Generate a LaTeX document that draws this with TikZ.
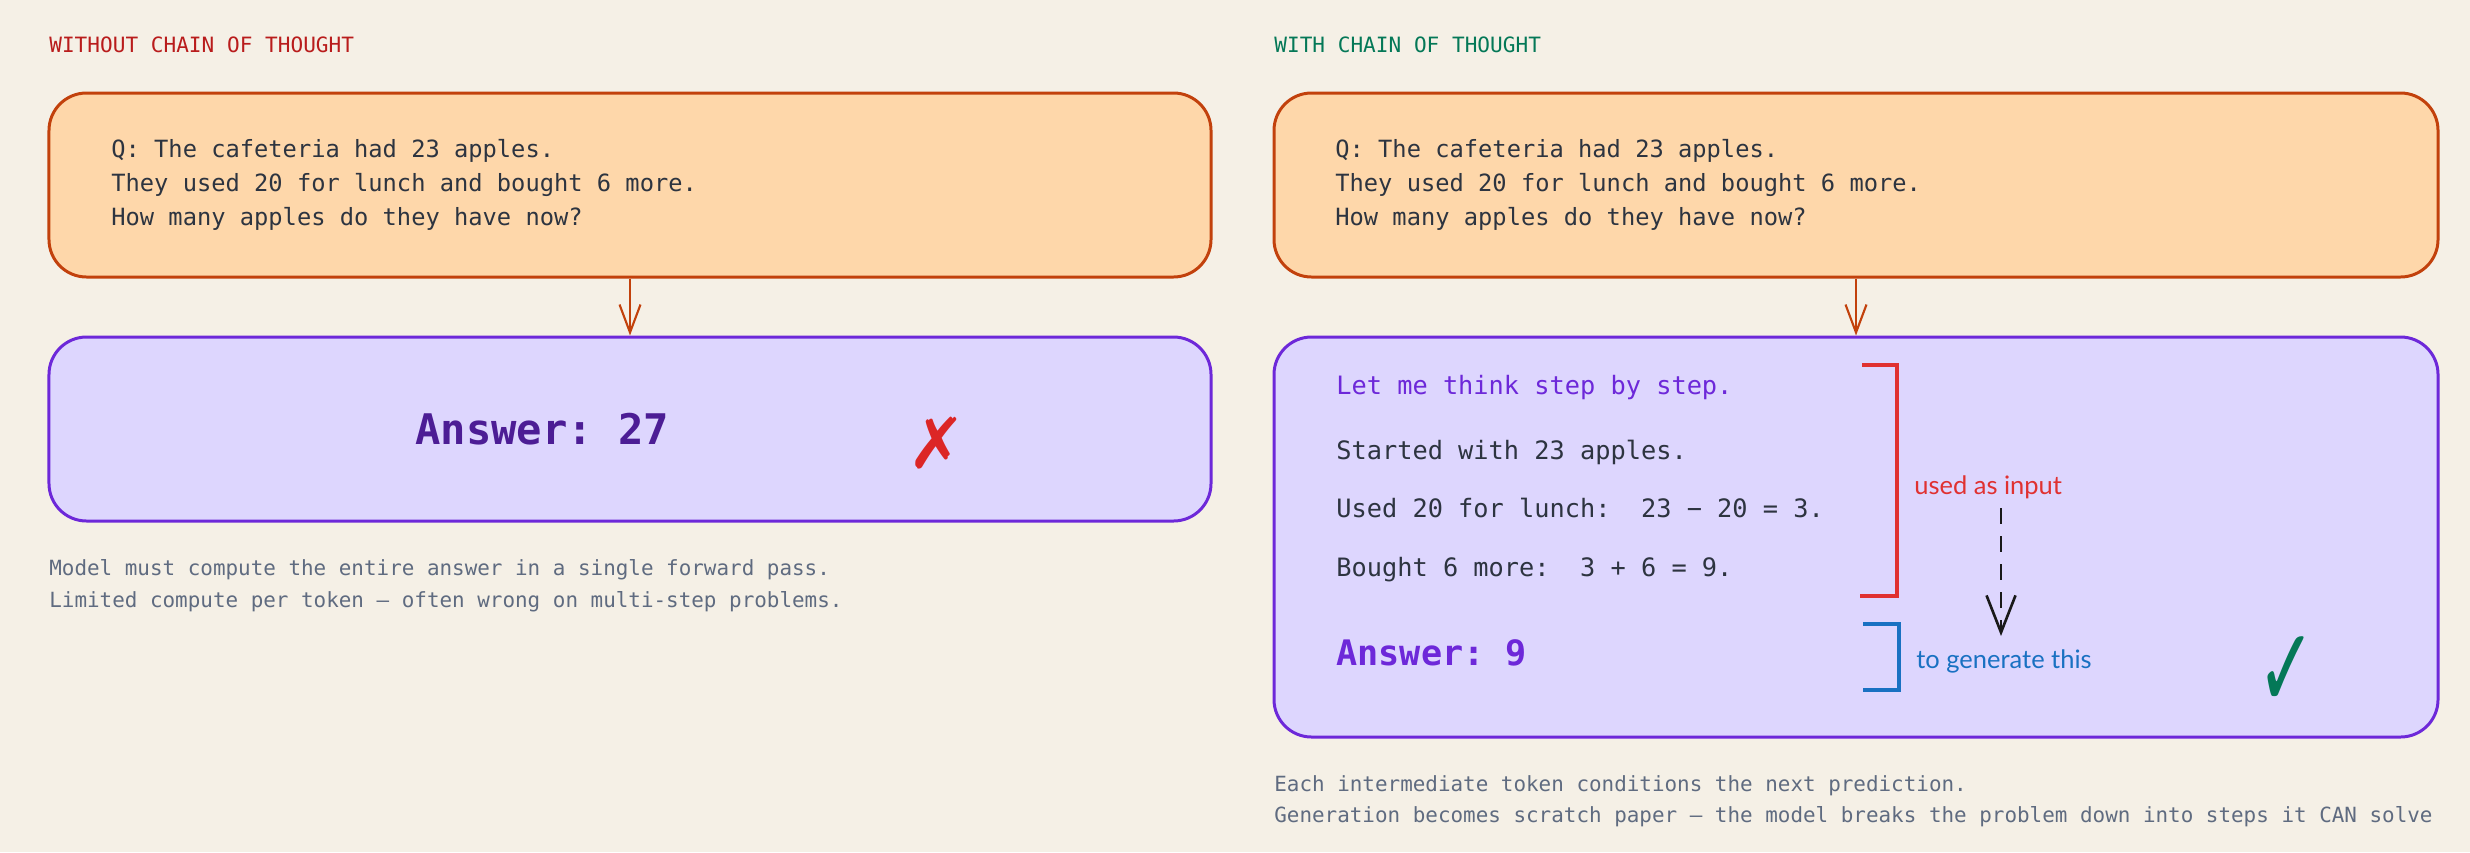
\documentclass[tikz,border=0pt]{standalone}
\usepackage{fontspec}
\setmonofont{DejaVu Sans Mono}
\setsansfont{Lato}
\newfontfamily\symbolfont{DejaVu Sans}
\usepackage{xcolor}
\usetikzlibrary{arrows.meta,positioning}

\definecolor{bgcream}{HTML}{F5F0E6}
\definecolor{qfill}{HTML}{FED7AA}
\definecolor{qline}{HTML}{C2410C}
\definecolor{afill}{HTML}{DDD6FE}
\definecolor{aline}{HTML}{6D28D9}
\definecolor{deepviolet}{HTML}{4C1D95}
\definecolor{inktext}{HTML}{2D3440}
\definecolor{notegray}{HTML}{5F6B80}
\definecolor{warnred}{HTML}{B91C1C}
\definecolor{okgreen}{HTML}{047857}
\definecolor{markred}{HTML}{DC2626}
\definecolor{bracketred}{HTML}{E03131}
\definecolor{markblue}{HTML}{1971C2}

\begin{document}
\begin{tikzpicture}[x=0.2mm, y=-0.2mm,
        qbox/.style={rectangle, draw=qline, fill=qfill, line width=1.7pt, rounded corners=7.5mm, minimum width=232.4mm, minimum height=36.8mm},
        abox/.style={rectangle, draw=aline, fill=afill, line width=1.7pt, rounded corners=7.5mm, minimum width=232.4mm},
        txt/.style={anchor=base west, inner sep=0pt, font=\ttfamily\fontsize{13.5}{16}\selectfont, text=inktext},
        steptxt/.style={txt, font=\ttfamily\fontsize{14.4}{17}\selectfont},
        head/.style={anchor=base west, inner sep=0pt, font=\ttfamily\fontsize{12}{14}\selectfont},
        note/.style={anchor=base west, inner sep=0pt, font=\ttfamily\fontsize{11.9}{14}\selectfont, text=notegray},
        tag/.style={anchor=base west, inner sep=0pt, font=\sffamily\fontsize{14.5}{17}\selectfont},
        arr/.style={-{Straight Barb[length=5.6mm, width=4.2mm]}, draw=qline, line width=1.2pt}
    ]
        \fill[bgcream] (0,0) rectangle (2470,852);
        \useasboundingbox (0,0) rectangle (2470,852);

        % Without chain of thought
        \node[head, text=warnred] (hL) at (49,52) {WITHOUT CHAIN OF THOUGHT};
        \node[qbox] (qL) at (630,185) {};
        \node[txt] (qL1) at (111,157) {Q: The cafeteria had 23 apples.};
        \node[txt] (qL2) at (111,191) {They used 20 for lunch and bought 6 more.};
        \node[txt] (qL3) at (111,225) {How many apples do they have now?};

        \node[abox, minimum height=36.8mm] (aL) at (630,429) {};
        \node[anchor=base west, inner sep=0pt, font=\ttfamily\bfseries\fontsize{24}{29}\selectfont, text=deepviolet] (ansL) at (415,444) {Answer: 27};
        \node[inner sep=0pt, font=\symbolfont\fontsize{40}{40}\selectfont, text=markred] (cross) at (937,443) {✗};

        \node[note] (nL1) at (49,575) {Model must compute the entire answer in a single forward pass.};
        \node[note] (nL2) at (49,607) {Limited compute per token — often wrong on multi-step problems.};

        % With chain of thought
        \node[head, text=okgreen] (hR) at (1274,52) {WITH CHAIN OF THOUGHT};
        \node[qbox, minimum width=232.8mm] (qR) at (1856,185) {};
        \node[txt] (qR1) at (1335,157) {Q: The cafeteria had 23 apples.};
        \node[txt] (qR2) at (1335,191) {They used 20 for lunch and bought 6 more.};
        \node[txt] (qR3) at (1335,225) {How many apples do they have now?};

        \node[abox, minimum width=232.8mm, minimum height=80mm] (aR) at (1856,537) {};
        \node[steptxt, text=aline] (s0) at (1336,394) {Let me think step by step.};
        \node[steptxt] (s1) at (1336,459) {Started with 23 apples.};
        \node[steptxt] (s2) at (1336,517) {Used 20 for lunch:\ \ 23 − 20 = 3.};
        \node[steptxt] (s3) at (1336,576) {Bought 6 more:\ \ 3 + 6 = 9.};
        \node[anchor=base west, inner sep=0pt, font=\ttfamily\bfseries\fontsize{20}{24}\selectfont, text=aline] (ansR) at (1336,665) {Answer: 9};
        \node[inner sep=0pt, font=\symbolfont\fontsize{64}{64}\selectfont, text=okgreen, xscale=0.62] (tick) at (2287,672) {✓};

        % Brackets and labels
        \draw[bracketred, line width=2pt] (1862,365) -- (1897,365) -- (1897,596) -- (1860,596);
        \draw[markblue, line width=2pt] (1863,624) -- (1899,624) -- (1899,690) -- (1863,690);
        \node[tag, text=bracketred] (used) at (1914,494) {used as input};
        \node[tag, text=markblue] (gen) at (1916,668) {to generate this};
        \coordinate (dashtop) at (2001,508);
        \coordinate (dashend) at (2001,636);

        \node[note] (nR1) at (1274,791) {Each intermediate token conditions the next prediction.};
        \node[note] (nR2) at (1274,822) {Generation becomes scratch paper — the model breaks the problem down into steps it CAN solve};

        % Arrows
        \draw[arr] (qL) -- (aL);
        \draw[arr] (qR) -- (aR);
        \draw[-{Straight Barb[length=7.4mm, width=5.8mm]}, line width=1.5pt, black!90, dash pattern=on 9pt off 7pt] (dashtop) -- (dashend);
    \end{tikzpicture}
\end{document}
